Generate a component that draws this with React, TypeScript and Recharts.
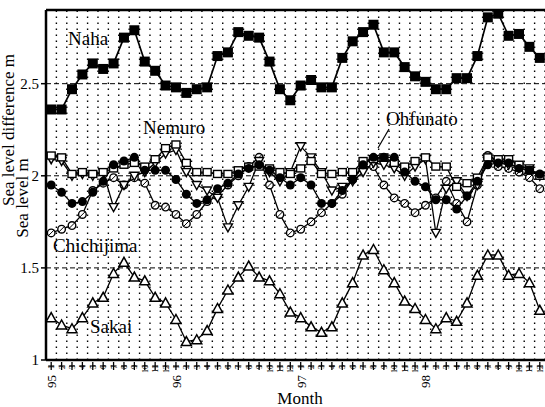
import React from 'react';
import { ComposedChart, Line, XAxis, YAxis, ReferenceLine } from 'recharts';

const yearLabels = ['95', '96', '97', '98'];
const monthLabels = ['1', '2', '3', '4', '5', '6', '7', '8', '9', '10', '11', '12'];

const nahaValues = [
  2.36, 2.36, 2.47, 2.55, 2.61, 2.58, 2.61, 2.75, 2.79, 2.62, 2.57, 2.49,
  2.48, 2.45, 2.47, 2.48, 2.65, 2.67, 2.78, 2.76, 2.75, 2.62, 2.47, 2.41,
  2.49, 2.52, 2.48, 2.48, 2.64, 2.73, 2.78, 2.82, 2.67, 2.67, 2.59, 2.54,
  2.51, 2.47, 2.47, 2.53, 2.53, 2.65, 2.86, 2.88, 2.76, 2.77, 2.7, 2.64,
];
const nemuroValues = [
  2.11, 2.1, 2.01, 2.02, 2.01, 2.02, 2.04, 2.06, 2.07, 2.05, 2.09, 2.15,
  2.17, 2.07, 2.02, 2.02, 2.01, 2.01, 2.03, 2.05, 2.05, 2.04, 2.02, 2.01,
  2.04, 2.08, 2.01, 2.01, 2.02, 2.02, 2.08, 2.09, 2.1, 2.07, 2.05, 2.08,
  2.1, 2.05, 2.05, 1.94, 1.96, 1.99, 2.1, 2.09, 2.09, 2.06, 2.03, 2.0,
];
const ohfunatoValues = [
  1.95, 1.91, 1.85, 1.86, 1.91, 1.97, 2.06, 2.08, 2.1, 2.03, 2.03, 2.03,
  1.98, 1.9, 1.85, 1.87, 1.93, 1.96, 2.01, 2.04, 2.06, 2.03, 1.99, 1.95,
  1.99, 1.95, 1.85, 1.85, 1.92, 1.98, 2.06, 2.1, 2.1, 2.1, 2.02, 1.97,
  1.94, 1.87, 1.87, 1.82, 1.89, 1.97, 2.06, 2.07, 2.07, 2.04, 2.03, 2.01,
];
const chichijimaValues = [
  1.69, 1.71, 1.73, 1.79, 1.92, 1.96, 1.99, 1.95, 1.99, 1.96, 1.84, 1.83,
  1.79, 1.74, 1.79, 1.86, 1.89, 1.95, 2.0, 2.05, 2.1, 1.95, 1.79, 1.69,
  1.71, 1.75, 1.8, 1.85, 1.9, 1.98, 2.05, 2.05, 1.95, 1.88, 1.85, 1.8,
  1.84, 1.88, 1.97, 1.85, 1.75, 1.95, 2.11, 2.05, 2.04, 2.02, 1.99, 1.93,
];
const otherValues = [
  2.09, 2.08, 2.0, 2.01, 2.0, 2.02, 1.83, 1.95, 2.0, 2.02, 2.07, 2.12,
  2.14, 2.02, 1.95, 1.92, 1.88, 1.72, 1.84, 1.94, 2.08, 2.02, 1.97, 2.02,
  2.16, 2.1, 2.02, 1.92, 1.94, 1.97, 2.02, 2.07, 2.06, 2.04, 2.0, 2.05,
  2.09, 1.69, 1.93, 1.97, 1.89, 1.95, 2.08, 2.07, 2.06, 2.05, 2.04, 2.0,
];
const sakaiValues = [
  1.23, 1.19, 1.17, 1.23, 1.31, 1.34, 1.47, 1.53, 1.45, 1.43, 1.34, 1.31,
  1.22, 1.1, 1.11, 1.16, 1.28, 1.38, 1.45, 1.51, 1.45, 1.43, 1.36, 1.26,
  1.23, 1.18, 1.15, 1.18, 1.31, 1.42, 1.57, 1.6, 1.49, 1.42, 1.32, 1.28,
  1.22, 1.17, 1.23, 1.21, 1.31, 1.46, 1.57, 1.57, 1.46, 1.47, 1.42, 1.27,
];

const dashedLevels = [1.5, 2, 2.5];
const yTicks = [1, 1.5, 2, 2.5];

const rows = nahaValues.map((v, i) => ({
  t: i,
  month: monthLabels[i % 12],
  year: i % 12 === 0 ? yearLabels[i / 12] : '',
  naha: v,
  nemuro: nemuroValues[i],
  ohfunato: ohfunatoValues[i],
  chichijima: chichijimaValues[i],
  other: otherValues[i],
  sakai: sakaiValues[i],
}));

const font = '"Liberation Serif", "DejaVu Serif", serif';

const filledSquare = (p: any) => (
  <rect key={p.index} x={p.cx - 5} y={p.cy - 5} width={10} height={10} fill="#000" />
);
const filledCircle = (p: any) => <circle key={p.index} cx={p.cx} cy={p.cy} r={4.5} fill="#000" />;
const openSquare = (p: any) => (
  <rect key={p.index} x={p.cx - 4} y={p.cy - 3.5} width={8} height={7} fill="#fff" stroke="#000" strokeWidth={1.4} />
);
const openCircle = (p: any) => (
  <g key={p.index}>
    <circle cx={p.cx} cy={p.cy} r={3.8} fill="#fff" stroke="#000" strokeWidth={1.4} />
    <line x1={p.cx - 3} y1={p.cy + 3} x2={p.cx + 3} y2={p.cy - 3} stroke="#000" strokeWidth={1} />
  </g>
);
const openTriDown = (p: any) => (
  <path key={p.index} d={`M${p.cx - 4.5},${p.cy - 3.5}L${p.cx + 4.5},${p.cy - 3.5}L${p.cx},${p.cy + 4.5}Z`} fill="#fff" stroke="#000" strokeWidth={1.4} />
);
const openTriUp = (p: any) => (
  <path key={p.index} d={`M${p.cx - 5},${p.cy + 4}L${p.cx + 5},${p.cy + 4}L${p.cx},${p.cy - 5}Z`} fill="#fff" stroke="#000" strokeWidth={1.5} />
);

const MonthTick = (props: any) => {
  const { x, y, payload } = props;
  const row = rows[payload.value];
  if (!row) return null;
  return (
    <g>
      <line x1={x} y1={y} x2={x} y2={y + 8} stroke="#000" strokeWidth={1.3} />
      <line x1={x - 3} y1={y + 4} x2={x + 3} y2={y + 4} stroke="#000" strokeWidth={1.1} />
      <text x={x + 3} y={y + 3} transform={`rotate(-90 ${x + 3} ${y + 3})`} textAnchor="end" fontSize={8} fontFamily={font} fill="#000">
        {row.month}
      </text>
      {row.year && (
        <text x={x + 5} y={y + 13} transform={`rotate(-90 ${x + 5} ${y + 13})`} textAnchor="end" fontSize={13} fontFamily={font} fill="#000">
          {row.year}
        </text>
      )}
    </g>
  );
};

const lineProps = { type: 'linear' as const, stroke: '#000', strokeWidth: 1.3, isAnimationActive: false };

export default function App() {
  return (
    <div style={{ position: 'absolute', left: 0, top: 0, width: 545, height: 407, background: '#fff', fontFamily: font }}>
      <ComposedChart width={545} height={407} data={rows} margin={{ top: 10, right: 0, bottom: 0, left: 0 }}>
        <XAxis
          type="number"
          dataKey="t"
          domain={[-0.5, 47.5]}
          ticks={rows.map((r) => r.t)}
          interval={0}
          height={47}
          tickSize={0}
          tickLine={false}
          tick={<MonthTick />}
          axisLine={{ stroke: '#000', strokeWidth: 2.5 }}
          allowDataOverflow
        />
        <YAxis
          type="number"
          domain={[1, 2.9]}
          ticks={yTicks}
          width={46}
          tickSize={5}
          allowDataOverflow
          axisLine={{ stroke: '#000', strokeWidth: 2.5 }}
          tickLine={{ stroke: '#000', strokeWidth: 1.5 }}
          tick={{ fill: '#000', fontSize: 15, fontFamily: font }}
        />
        {rows.map((r) => (
          <ReferenceLine key={'g' + r.t} x={r.t + 0.5} stroke="#000" strokeWidth={1.4} strokeDasharray="1.5 4.5" />
        ))}
        {dashedLevels.map((v) => (
          <ReferenceLine key={'h' + v} y={v} stroke="#000" strokeWidth={1} strokeDasharray="5 3" />
        ))}
        <ReferenceLine y={2.9} stroke="#000" strokeWidth={2.5} />
        <Line {...lineProps} dataKey="chichijima" dot={openCircle} />
        <Line {...lineProps} dataKey="other" dot={openTriDown} />
        <Line {...lineProps} dataKey="nemuro" dot={openSquare} />
        <Line {...lineProps} dataKey="ohfunato" dot={filledCircle} />
        <Line {...lineProps} dataKey="sakai" dot={openTriUp} />
        <Line {...lineProps} dataKey="naha" strokeWidth={1.7} dot={filledSquare} />
      </ComposedChart>
      <svg width={545} height={407} style={{ position: 'absolute', left: 0, top: 0, pointerEvents: 'none' }}>
        <g fontFamily={font} fill="#000">
          <text x={68} y={45} fontSize={19}>Naha</text>
          <text x={143} y={134} fontSize={19}>Nemuro</text>
          <text x={386} y={125} fontSize={19}>Ohfunato</text>
          <line x1={389} y1={129} x2={378} y2={148} stroke="#000" strokeWidth={1.2} />
          <text x={53} y={252} fontSize={19}>Chichijima</text>
          <text x={90} y={333} fontSize={19}>Sakai</text>
          <text x={300} y={404} fontSize={17} textAnchor="middle">Month</text>
          <text x={14} y={130} fontSize={17} textAnchor="middle" transform="rotate(-90 14 130)">Sea level difference  m</text>
          <text x={28} y={198} fontSize={17} textAnchor="middle" transform="rotate(-90 28 198)">Sea level  m</text>
        </g>
      </svg>
    </div>
  );
}
